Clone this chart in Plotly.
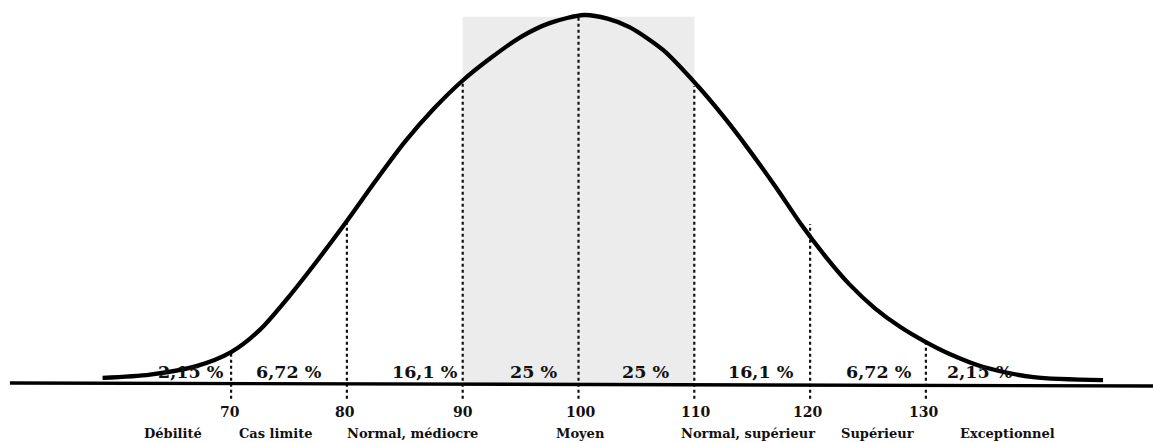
import plotly.graph_objects as go

# ---- data ----
# curve: IQ value -> relative height (peak = 100)
curve_iq = [58.9, 63.0, 67.0, 70.0, 72.5, 75.0, 77.5, 80.0, 82.5, 85.0, 87.5, 90.0,
            92.5, 95.0, 97.5, 100.5, 102.5, 104.4, 107.3, 110.3, 112.5, 114.6, 117.0,
            119.2, 121.3, 123.4, 125.6, 127.8, 130.0, 132.1, 134.9, 139.3, 145.3]
curve_h = [1.4, 2.3, 4.6, 8.4, 14.5, 23.5, 33.5, 44.0, 55.0, 65.5, 74.5, 82.2,
           88.5, 94.0, 97.8, 100.0, 99.0, 96.7, 90.5, 80.7, 72.5, 63.9, 53.4,
           43.2, 34.5, 26.8, 20.3, 15.2, 11.1, 7.8, 4.4, 1.6, 0.8]

tick_values = [70, 80, 90, 100, 110, 120, 130]
tick_labels = ["70", "80", "90", "100", "110", "120", "130"]
line_tops = [8.4, 44.0, 82.2, 99.6, 80.7, 43.2, 11.1]

band_edges = [60, 70, 80, 90, 100, 110, 120, 130, 140]
band_percent = ["2,15 %", "6,72 %", "16,1 %", "25 %", "25 %", "16,1 %", "6,72 %", "2,15 %"]

categories = ["Débilité", "Cas limite", "Normal, médiocre", "Moyen",
              "Normal, supérieur", "Supérieur", "Exceptionnel"]
category_lo = [60, 70, 80, 90, 110, 120, 130]
category_hi = [70, 80, 90, 110, 120, 130, 145]

shade_lo, shade_hi = 90, 110
axis_from = 50.9

# ---- figure ----
PX = 11.58          # pixels per IQ point
X0 = 578.5          # pixel of IQ 100
BASE = 383.0        # pixel of baseline
HY = 3.68           # pixels per height unit
W, H = 1153, 443
xr = [100 - X0 / PX, 100 + (W - X0) / PX]
yr = [-(H - BASE) / HY, BASE / HY]

fig = go.Figure()

# shaded middle zone
fig.add_shape(type="rect", xref="x", yref="y", x0=shade_lo, x1=shade_hi,
              y0=0, y1=max(curve_h) - 0.5, fillcolor="#ececec",
              line=dict(width=0), layer="below")

# dotted verticals
for v, top in zip(tick_values, line_tops):
    fig.add_trace(go.Scatter(x=[v, v], y=[-4.3, top], mode="lines",
                             line=dict(color="#111", width=2.2, dash="dot"),
                             hoverinfo="skip", showlegend=False))

# baseline
fig.add_trace(go.Scatter(x=[axis_from, xr[1]], y=[0, -0.8], mode="lines",
                         line=dict(color="#000", width=3.4),
                         hoverinfo="skip", showlegend=False))

# bell curve
fig.add_trace(go.Scatter(x=curve_iq, y=curve_h, mode="lines",
                         line=dict(color="#000", width=4.3, shape="spline", smoothing=0.8),
                         hoverinfo="skip", showlegend=False))

serif = "DejaVu Serif"
pct_shift = [18, 0, 20, 13, 9, 9, 11, -4]
for i, txt in enumerate(band_percent):
    mid = (band_edges[i] + band_edges[i + 1]) / 2
    fig.add_annotation(x=mid, y=3.1, text=f"<b>{txt}</b>", showarrow=False,
                       xshift=pct_shift[i], font=dict(family=serif, size=17.5, color="#111"))

num_shift = [-1, -2, 0, 2, 1, -3, -2]
for v, lab, s in zip(tick_values, tick_labels, num_shift):
    fig.add_annotation(x=v, y=-7.8, text=f"<b>{lab}</b>", showarrow=False, xshift=s,
                       font=dict(family=serif, size=14, color="#111"))

cat_shift = [0, -14, 8, 2, -4, 9, -5]
for name, lo, hi, s in zip(categories, category_lo, category_hi, cat_shift):
    fig.add_annotation(x=(lo + hi) / 2, y=-13.7, text=f"<b>{name}</b>", showarrow=False,
                       xshift=s, font=dict(family=serif, size=13, color="#111"))

fig.update_layout(width=W, height=H, margin=dict(l=0, r=0, t=0, b=0),
                  paper_bgcolor="white", plot_bgcolor="white", showlegend=False)
fig.update_xaxes(range=xr, visible=False, fixedrange=True)
fig.update_yaxes(range=yr, visible=False, fixedrange=True)

fig.write_html("out.html", config={"displayModeBar": False},
               post_script="document.body.style.margin='0px';document.body.style.overflow='hidden';")
